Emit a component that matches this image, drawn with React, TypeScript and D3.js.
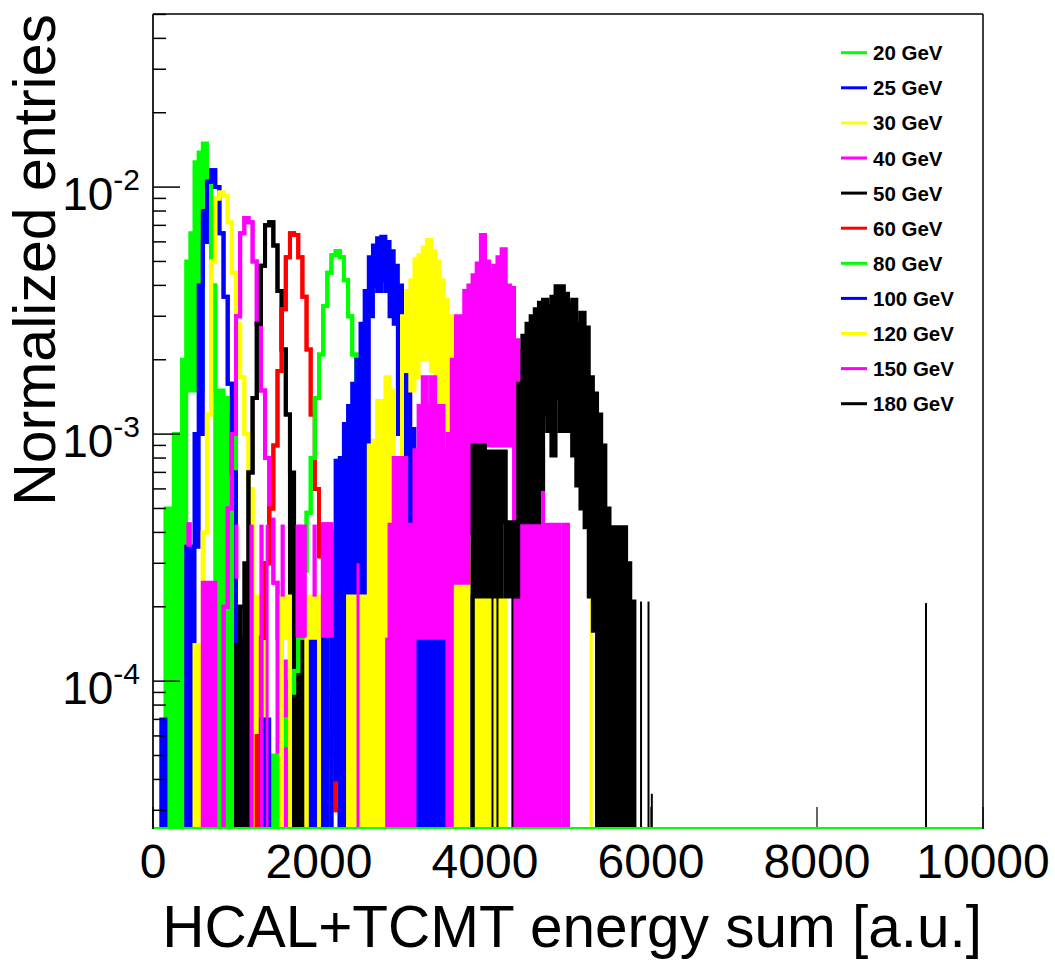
import React from "react";
import * as d3 from "d3";

// ---------- layout ----------
const W = 1055;
const H = 962;
const FRAME = { left: 153, right: 983, top: 14, bottom: 829 };

// ---------- axes ----------
const X_DOMAIN = [0, 10000];
const Y_DOMAIN = [2.52e-5, 5.02e-2];
const X_TICKS = [0, 2000, 4000, 6000, 8000, 10000];
const Y_DECADES = [-2, -3, -4];
const X_TITLE = "HCAL+TCMT energy sum [a.u.]";
const Y_TITLE = "Normalized entries";

// ---------- data ----------
// bin width of the histograms (energy units); values are in units of 1e-4 (normalized entries)
const BIN = 50;
const UNIT = 1e-4;

const LABELS = ["20 GeV", "25 GeV", "30 GeV", "40 GeV", "50 GeV", "60 GeV", "80 GeV", "100 GeV", "120 GeV", "150 GeV", "180 GeV"];
const COLORS = ["#00ff00", "#0000ff", "#ffff00", "#ff00ff", "#000000", "#ff0000", "#00ff00", "#0000ff", "#ffff00", "#ff00ff", "#000000"];

// hi = upper envelope of the bin contents, lo = lower envelope (0 = drops to the axis)
// spikes = isolated narrow bins: [energy, upper, lower]
const S20_START = 3;
const S20_HI = [5, 5, 10, 10, 20, 50, 65, 126, 138, 150, 110, 40, 15, 15, 14, 12, 10];
const S20_LO = [0, 0, 0, 0, 0, 15, 15, 15, 15, 100, 100, 40, 0, 0, 0, 0, 0];
const S20_SPIKES: number[][] = [];

const S25_START = 2;
const S25_HI = [0.7, 0, 0, 0, 0, 0, 3.5, 3.5, 10, 40, 80, 105, 117, 100, 65, 36, 16, 7, 1.5, 1.5, 1.5, 1.5];
const S25_LO = [0, 0, 0, 0, 0, 0, 0, 0, 3.5, 10, 60, 105, 117, 100, 65, 36, 16, 7, 0, 0, 0, 0];
const S25_SPIKES: number[][] = [];

const S30_START = 10;
const S30_HI = [1.4, 1.4, 4, 12, 50, 90, 95, 92, 72, 45, 28, 17, 10, 6, 2.2, 2.2, 2.2];
const S30_LO = [0, 0, 4, 12, 50, 90, 95, 92, 72, 45, 28, 17, 10, 6, 0, 0, 0];
const S30_SPIKES: number[][] = [];

const S40_START = 12;
const S40_HI = [2.5, 2.5, 2.5, 0, 0, 2, 5, 10, 30, 65, 75, 72, 50, 28, 15, 8, 4.5, 2.5, 1.5, 1.2, 1.0, 0.6];
const S40_LO = [0, 0, 0, 0, 0, 2, 5, 10, 30, 65, 75, 72, 50, 28, 15, 8, 4.5, 2.5, 0, 0, 0, 0];
const S40_SPIKES: number[][] = [];

const S50_START = 20;
const S50_HI = [1.4, 2, 3, 7, 14, 28, 48, 70, 72, 58, 38, 22, 12, 7, 4, 1.5, 1.5, 1.5, 1.5, 1.5];
const S50_LO = [0, 2, 0, 7, 14, 28, 48, 70, 72, 58, 38, 22, 12, 0, 0, 0, 0, 0, 0, 0];
const S50_SPIKES: number[][] = [];

const S60_START = 25;
const S60_HI = [0.6, 1.5, 3, 5, 9, 18, 32, 52, 65, 64, 52, 36, 22, 12, 6, 3.2, 1.8, 0.9, 0.5, 0.3];
const S60_LO = [0.6, 1.5, 3, 5, 9, 18, 32, 52, 65, 64, 52, 36, 22, 12, 6, 3.2, 1.8, 0.9, 0.5, 0.3];
const S60_SPIKES: number[][] = [];

const S80_START = 28;
const S80_HI = [0.5, 0.5, 0.5, 0.55, 0.7, 0.9, 1.1, 1.5, 2.8, 4.8, 8, 14, 21, 33, 45, 53, 55, 52, 42, 30, 21, 13, 7.5, 4.5, 2.6, 1.6, 1.0, 0.6, 0.4];
const S80_LO = [0, 0, 0, 0.55, 0.7, 0.9, 1.1, 1.5, 2.8, 4.8, 8, 14, 21, 33, 45, 53, 55, 52, 42, 30, 21, 13, 7.5, 4.5, 2.6, 1.6, 1.0, 0.6, 0.4];
const S80_SPIKES: number[][] = [];

const S100_START = 26;
const S100_HI = [0.7, 0.7, 0, 0, 0, 0, 0, 0, 0, 0, 0, 1.5, 1.5, 1.5, 1.5, 1.5, 0, 4, 7.8, 8, 11, 13, 16, 20, 28, 38, 52, 58, 62, 63, 60, 55, 48, 40, 27, 18, 10.5, 5, 4.4, 4.4, 4.4, 3, 1.5, 1.5, 0, 1.5, 0, 0, 1.5];
const S100_LO = [0, 0, 0, 0, 0, 0, 0, 0, 0, 0, 0, 0, 0, 0, 0, 0, 0, 0.6, 0.4, 0, 0, 0, 0, 0, 0, 0, 30, 40, 38, 42, 38, 30, 28, 10, 0, 0, 0, 0, 0, 0, 0, 0, 0, 0, 0, 0, 0, 0, 0];
const S100_SPIKES: number[][] = [];

const S120_START = 31;
const S120_HI = [2.2, 2.2, 0, 0, 0, 0, 2.2, 2.2, 2.2, 0, 0, 0, 0, 0, 0, 0, 2.2, 2.2, 2.2, 2.2, 2.2, 9, 9.4, 13.6, 13.6, 17, 15, 8, 8, 30, 38, 42, 51, 53, 57, 61, 55, 50, 42, 35, 30, 22, 15, 8, 4.4, 3, 2.2, 2.2, 2.2, 2.2, 0, 2.2, 2.2, 2.2];
const S120_LO = [1.5, 1.5, 0, 0, 0, 0, 1.5, 1.5, 1.5, 0, 0, 0, 0, 0, 0, 0, 0, 0, 0, 0, 0, 0, 0, 0, 0, 0, 0, 0, 0, 18, 18, 15, 17, 20, 22, 20, 18, 15, 12, 8, 5, 0, 0, 0, 0, 0, 0, 0, 0, 0, 0, 0, 0, 0];
const S120_SPIKES = [[5280, 2.2, 0]];

const S150_START = 57;
const S150_HI = [4.3, 8, 8, 8, 4.3, 4.3, 8.6, 13, 17, 13, 17, 13, 13, 8.6, 10, 20, 30, 30, 38, 40, 44, 49, 64, 50, 45, 48, 52, 56, 40, 39, 24, 21.7, 17, 10, 12.8, 6, 8.5, 4.3, 4.3, 4.3, 4.3, 0, 4.3];
const S150_LO = [0, 0, 0, 0, 0, 0, 1.5, 1.5, 1.5, 1.5, 1.5, 1.5, 1.5, 1.5, 0, 2.5, 2.5, 2.5, 2.5, 4, 9, 9, 9, 9, 9, 9, 9, 9, 9, 9, 0, 0, 0, 0, 0, 0, 0, 0, 0, 0, 0, 0, 0];
const S150_SPIKES = [
  [420, 4.4, 3.5], [450, 4.4, 3.5],
  [1000, 4.3, 2.6], [1012, 4.3, 2.6],
  [1180, 4.3, 0], [1195, 4.3, 0],
  [1300, 4.3, 0], [1315, 4.3, 0], [1375, 4.3, 0],
  [1555, 4.3, 2.2], [1570, 4.3, 2.2],
  [1735, 4.3, 1.5], [1755, 4.3, 1.5], [1775, 4.3, 1.5], [1795, 4.3, 1.5], [1815, 4.3, 1.5], [1835, 4.3, 1.5],
  [1940, 4.3, 2.2], [1955, 4.3, 2.2],
  [2040, 4.4, 1.5], [2060, 4.4, 1.5], [2080, 4.4, 1.5], [2100, 4.4, 1.5], [2120, 4.4, 1.5], [2140, 4.4, 1.5], [2160, 4.4, 1.5],
  [2470, 3.0, 0], [2815, 1.5, 0],
];

const S180_START = 77;
const S180_HI = [9, 9, 9, 8.5, 8.5, 8.5, 8.5, 8.5, 4.4, 4.4, 4.4, 16, 25, 28, 30, 32, 34, 35, 33, 36, 39.7, 39.7, 37, 33.5, 35, 28, 31, 27, 17, 14.6, 12, 9, 5, 4.2, 4.2, 4.2, 4.2, 3, 2.1];
const S180_LO = [2.2, 2.2, 2.2, 2.2, 2.2, 2.2, 2.2, 4.4, 2.2, 2.2, 2.2, 4.4, 4.4, 4.4, 4.4, 4.4, 6, 12, 10.3, 8.2, 14, 10.3, 10.3, 10.3, 8.2, 6.2, 5, 4.2, 2.2, 1.6, 0, 0, 0, 0, 0, 0, 0, 0, 0];
const S180_SPIKES = [[4090, 8.5, 0], [4150, 8.5, 0], [4330, 4.4, 0], [5880, 2.1, 0], [5970, 2.1, 0], [6010, 0.35, 0], [9313, 2.07, 0]];

const SERIES = [
  { start: S20_START, hi: S20_HI, lo: S20_LO, spikes: S20_SPIKES },
  { start: S25_START, hi: S25_HI, lo: S25_LO, spikes: S25_SPIKES },
  { start: S30_START, hi: S30_HI, lo: S30_LO, spikes: S30_SPIKES },
  { start: S40_START, hi: S40_HI, lo: S40_LO, spikes: S40_SPIKES },
  { start: S50_START, hi: S50_HI, lo: S50_LO, spikes: S50_SPIKES },
  { start: S60_START, hi: S60_HI, lo: S60_LO, spikes: S60_SPIKES },
  { start: S80_START, hi: S80_HI, lo: S80_LO, spikes: S80_SPIKES },
  { start: S100_START, hi: S100_HI, lo: S100_LO, spikes: S100_SPIKES },
  { start: S120_START, hi: S120_HI, lo: S120_LO, spikes: S120_SPIKES },
  { start: S150_START, hi: S150_HI, lo: S150_LO, spikes: S150_SPIKES },
  { start: S180_START, hi: S180_HI, lo: S180_LO, spikes: S180_SPIKES },
].map((s, i) => ({ ...s, label: LABELS[i], color: COLORS[i] }));

const FONT = "'Liberation Sans', Arial, Helvetica, sans-serif";

export default function App() {
  const x = d3.scaleLinear().domain(X_DOMAIN).range([FRAME.left, FRAME.right]);
  const y = d3.scaleLog().domain(Y_DOMAIN).range([FRAME.bottom, FRAME.top]);
  const BOT = FRAME.bottom + 4;
  const yv = (v: number) => (v <= 0 ? BOT : Math.min(BOT, y(v * UNIT)));

  const stepLine = d3.line<[number, number]>().curve(d3.curveStepAfter);
  const makeLine = (start: number, vals: number[]) => {
    const pts: [number, number][] = [];
    pts.push([x(start * BIN), BOT]);
    vals.forEach((v, i) => pts.push([x((start + i) * BIN), yv(v)]));
    const end = x((start + vals.length) * BIN);
    pts.push([end, yv(vals[vals.length - 1])]);
    pts.push([end, BOT]);
    return stepLine(pts) || "";
  };
  const bandArea = d3
    .area<{ e: number; hi: number; lo: number }>()
    .curve(d3.curveStepAfter)
    .x((d) => x(d.e))
    .y0((d) => yv(d.lo))
    .y1((d) => yv(d.hi));
  const makeArea = (start: number, hi: number[], lo: number[]) => {
    const pts = hi.map((h, i) => ({ e: (start + i) * BIN, hi: h, lo: lo[i] }));
    const last = pts[pts.length - 1];
    pts.push({ e: (start + hi.length) * BIN, hi: last.hi, lo: last.lo });
    return bandArea(pts) || "";
  };

  // minor y ticks
  const yMinor: number[] = [];
  for (let d = -5; d <= -1; d++) {
    for (let m = 2; m <= 9; m++) {
      const v = m * Math.pow(10, d);
      if (v > Y_DOMAIN[0] && v < Y_DOMAIN[1]) yMinor.push(v);
    }
  }

  const legendX = 841;
  const legendY0 = 52.7;
  const legendDy = 35.1;

  return (
    <div style={{ position: "absolute", left: 0, top: 0 }}>
      <svg width={W} height={H} viewBox={`0 0 ${W} ${H}`} style={{ display: "block", background: "#fff" }}>
        <defs>
          <clipPath id="plotclip">
            <rect x={FRAME.left} y={FRAME.top} width={FRAME.right - FRAME.left} height={FRAME.bottom - FRAME.top} />
          </clipPath>
        </defs>
        <rect x={0} y={0} width={W} height={H} fill="#fff" />

        {/* x ticks (under the histograms) */}
        {X_TICKS.map((t) => (
          <line key={"xt" + t} x1={x(t)} x2={x(t)} y1={FRAME.bottom} y2={FRAME.bottom - 22} stroke="#000" strokeWidth={1.2} />
        ))}

        {/* histograms */}
        <g clipPath="url(#plotclip)">
          {SERIES.map((s, i) => (
            <g key={"s" + i}>
              <path d={makeArea(s.start, s.hi, s.lo)} fill={s.color} stroke="none" />
              <path d={makeLine(s.start, s.lo)} fill="none" stroke={s.color} strokeWidth={4} />
              <path d={makeLine(s.start, s.hi)} fill="none" stroke={s.color} strokeWidth={4} />
              {s.spikes.map((sp, j) => (
                <line key={j} x1={x(sp[0])} x2={x(sp[0])} y1={yv(sp[2])} y2={yv(sp[1])} stroke={s.color} strokeWidth={i === 10 ? 2 : 3} />
              ))}
            </g>
          ))}
          {/* zero-level baseline of the histograms */}
          <line x1={FRAME.left} x2={FRAME.right} y1={FRAME.bottom} y2={FRAME.bottom} stroke={COLORS[6]} strokeWidth={4} />
        </g>

        {/* y ticks */}
        {Y_DECADES.map((d) => (
          <line key={"yM" + d} x1={FRAME.left} x2={FRAME.left + 27} y1={y(Math.pow(10, d))} y2={y(Math.pow(10, d))} stroke="#000" strokeWidth={1.5} />
        ))}
        {yMinor.map((v, i) => (
          <line key={"ym" + i} x1={FRAME.left} x2={FRAME.left + 13} y1={y(v)} y2={y(v)} stroke="#000" strokeWidth={1.5} />
        ))}

        {/* frame */}
        <line x1={FRAME.left} x2={FRAME.right} y1={FRAME.top} y2={FRAME.top} stroke="#000" strokeWidth={1.5} />
        <line x1={FRAME.left} x2={FRAME.left} y1={FRAME.top} y2={FRAME.bottom} stroke="#000" strokeWidth={1.7} />
        <line x1={FRAME.right} x2={FRAME.right} y1={FRAME.top} y2={FRAME.bottom} stroke="#000" strokeWidth={1.5} />

        {/* y tick labels */}
        {Y_DECADES.map((d) => (
          <text key={"yl" + d} x={140} y={y(Math.pow(10, d)) + 23} textAnchor="end" fontFamily={FONT} fontSize={46} fill="#000">
            10
            <tspan dy={-20} fontSize={30}>{String(d)}</tspan>
          </text>
        ))}

        {/* x tick labels */}
        {X_TICKS.map((t) => (
          <text key={"xl" + t} x={x(t)} y={878} textAnchor="middle" fontFamily={FONT} fontSize={48} fill="#000">
            {String(t)}
          </text>
        ))}

        {/* axis titles */}
        <text x={982} y={947} textAnchor="end" fontFamily={FONT} fontSize={58.5} fill="#000">
          {X_TITLE}
        </text>
        <text transform={`translate(55,14) rotate(-90)`} textAnchor="end" fontFamily={FONT} fontSize={59} fill="#000">
          {Y_TITLE}
        </text>

        {/* legend */}
        {SERIES.map((s, i) => {
          const ly = legendY0 + i * legendDy;
          return (
            <g key={"lg" + i}>
              <line x1={legendX} x2={legendX + 26} y1={ly} y2={ly} stroke={s.color} strokeWidth={3} />
              <text x={873} y={ly + 7.5} fontFamily={FONT} fontWeight="bold" fontSize={20.5} fill="#000">
                {s.label}
              </text>
            </g>
          );
        })}
      </svg>
    </div>
  );
}
